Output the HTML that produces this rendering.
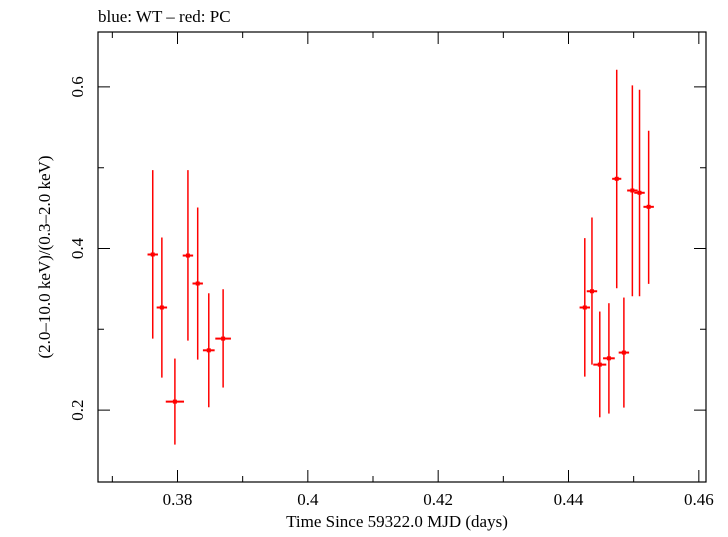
<!DOCTYPE html>
<html><head><meta charset="utf-8"><style>
body{margin:0;background:#fff}
svg text{font-family:"Liberation Serif",serif;fill:#000}
</style></head><body>
<svg id="chart" width="728" height="532" viewBox="0 0 728 532" xmlns="http://www.w3.org/2000/svg">
<text x="98" y="22" font-size="17">blue: WT – red: PC</text>
<rect x="98" y="32" width="608" height="450" fill="none" stroke="#000" stroke-width="1.2"/>
<g id="ticks"></g>
<g id="marks"></g>
<text x="397" y="527" font-size="17" text-anchor="middle">Time Since 59322.0 MJD (days)</text>
<text transform="translate(50,257) rotate(-90)" font-size="17" text-anchor="middle">(2.0–10.0 keV)/(0.3–2.0 keV)</text>
</svg>
<script>
const times=[0.3762,0.3776,0.3796,0.3816,0.3831,0.3848,0.3870,0.4425,0.4436,0.4448,0.4462,0.4474,0.4485,0.4498,0.4509,0.4523];
const timeErr=[0.0008,0.0008,0.0014,0.0008,0.0008,0.0009,0.0012,0.0008,0.0008,0.0010,0.0009,0.0007,0.0008,0.0008,0.0008,0.0008];
const ratios=[0.3926,0.327,0.2105,0.3913,0.3567,0.274,0.2885,0.327,0.3471,0.2563,0.2641,0.4863,0.2712,0.4718,0.469,0.4516];
const ratioHi=[0.497,0.4136,0.2638,0.497,0.4508,0.3446,0.3496,0.4128,0.4384,0.322,0.3323,0.6213,0.3393,0.6019,0.5965,0.5458];
const ratioLo=[0.2885,0.2402,0.1573,0.286,0.2625,0.2035,0.2279,0.2415,0.2563,0.1911,0.1957,0.3508,0.2031,0.3409,0.3409,0.3563];
const xTickLabels=["0.38","0.4","0.42","0.44","0.46"];
const yTickLabels=["0.2","0.4","0.6"];
const X0=98,X1=706,Y0=482,Y1=32,xmin=0.3678,xmax=0.4611,ymin=0.111,ymax=0.668;
const sx=v=>X0+(v-xmin)/(xmax-xmin)*(X1-X0);
const sy=v=>Y0-(v-ymin)/(ymax-ymin)*(Y0-Y1);
const NS="http://www.w3.org/2000/svg";
function mk(tag,attrs,parent){const e=document.createElementNS(NS,tag);for(const k in attrs)e.setAttribute(k,attrs[k]);parent.appendChild(e);return e;}
const tg=document.getElementById('ticks'),mg=document.getElementById('marks');
for(let i=0;i<10;i++){const v=0.37+i*0.01;if(v>xmax)break;const x=sx(v);const maj=Math.round(v*100)%2===0;const L=maj?12:6;
 const t=mk('path',{d:`M${x},${Y0}v${-L}M${x},${Y1}v${L}`,stroke:'#000','stroke-width':1},tg);
 
 }
xTickLabels.forEach(s=>{const t=mk('text',{x:sx(parseFloat(s)),y:505,'font-size':17,'text-anchor':'middle'},tg);t.textContent=s;
 
 });
for(let i=2;i<=6;i++){const v=i*0.1;const y=sy(v);const maj=i%2===0;const L=maj?12:6;
 const t=mk('path',{d:`M${X0},${y}h${L}M${X1},${y}h${-L}`,stroke:'#000','stroke-width':1},tg);
 
 }
yTickLabels.forEach(s=>{const y=sy(parseFloat(s));const t=mk('text',{transform:`translate(83,${y}) rotate(-90)`,'font-size':17,'text-anchor':'middle'},tg);t.textContent=s;
 
 });
times.forEach((t,i)=>{const x=sx(t),y=sy(ratios[i]);
 const g=mk('g',{stroke:'#ff0000','stroke-width':1.5},mg);
 
 
 mk('line',{x1:x,x2:x,y1:sy(ratioHi[i]),y2:sy(ratioLo[i])},g);
 mk('line',{x1:sx(t-timeErr[i]),x2:sx(t+timeErr[i]),y1:y,y2:y,'stroke-width':2},g);
 mk('rect',{x:x-2,y:y-2,width:4,height:4,fill:'#ff0000',stroke:'none'},g);
});
</script>
</body></html>
